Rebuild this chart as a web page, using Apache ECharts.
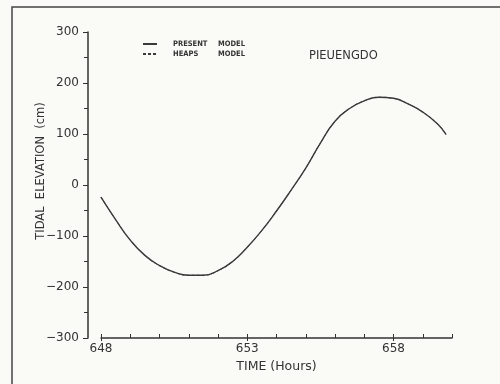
<!DOCTYPE html>
<html>
<head>
<meta charset="utf-8">
<script src="https://cdn.jsdelivr.net/npm/echarts@6/dist/echarts.min.js"></script>
<style>
  html, body { margin: 0; padding: 0; background: #fafaf7; }
  #chart { width: 500px; height: 384px; }
</style>
</head>
<body>
<div id="chart"></div>
<script>
// time in hours, elevation in cm
const hours = [648, 648.5, 649, 649.5, 650, 650.5, 651, 651.5, 652, 652.5, 653, 653.5,
  654, 654.5, 655, 655.5, 656, 656.5, 657, 657.5, 658, 658.5, 659, 659.5, 659.8];
const presentModel = [-24, -68, -108, -138, -158, -171, -177, -177, -168, -150, -122, -89,
  -51, -10, 33, 82, 125, 150, 165, 172, 170, 159, 143, 120, 99];
// the Heaps model curve sits on top of the present model everywhere
const heapsModel = [-24, -68, -108, -138, -158, -171, -177, -177, -168, -150, -122, -89,
  -51, -10, 33, 82, 125, 150, 165, 172, 170, 159, 143, 120, 99];
const xLabels = [648, 653, 658];

const ink = '#333';
const chart = echarts.init(document.getElementById('chart'));

const legendFont = { fontSize: 7.5, fontWeight: 'bold', color: ink, fontFamily: 'DejaVu Sans Condensed' };

const option = {
  backgroundColor: '#fafaf7',
  animation: false,
  textStyle: { fontFamily: 'DejaVu Sans', color: ink },
  title: {
    text: 'PIEUENGDO',
    left: 304,
    top: 45,
    textStyle: { fontSize: 11.5, fontWeight: 'normal', color: ink, fontFamily: 'DejaVu Sans' }
  },
  legend: {
    orient: 'vertical',
    left: 142,
    top: 40,
    itemWidth: 14,
    itemHeight: 8,
    itemGap: 2,
    padding: 0,
    itemStyle: { opacity: 0 },
    data: ['PRESENT MODEL', 'HEAPS MODEL'],
    formatter: name => {
      const parts = name.split(' ');
      return '{g|}{a|' + parts[0] + '}{b|' + parts[1] + '}';
    },
    textStyle: {
      fontSize: 7.5,
      color: ink,
      rich: {
        g: { width: 11 },
        a: Object.assign({ width: 45 }, legendFont),
        b: legendFont
      }
    }
  },
  graphic: [{
    type: 'rect',
    shape: { x: 12, y: 7, width: 520, height: 420 },
    style: { fill: 'none', stroke: '#444', lineWidth: 1.5 },
    silent: true
  }],
  grid: { left: 101, right: 48, top: 32, bottom: 46 },
  xAxis: [{
    type: 'value',
    min: 648,
    max: 660,
    interval: 1,
    name: 'TIME (Hours)',
    nameLocation: 'middle',
    nameGap: 22,
    nameTextStyle: { fontSize: 12.5, color: ink },
    axisLine: { onZero: false, lineStyle: { color: ink, width: 1.5 } },
    axisTick: { inside: true, length: 4, lineStyle: { color: ink } },
    axisLabel: { customValues: xLabels, fontSize: 12, color: ink, margin: 5 },
    splitLine: { show: false }
  }, {
    type: 'value',
    position: 'bottom',
    min: 648,
    max: 660,
    interval: 1,
    axisLine: { show: false, onZero: false },
    axisTick: { customValues: xLabels, length: 3, lineStyle: { color: ink } },
    axisLabel: { show: false },
    splitLine: { show: false }
  }],
  yAxis: {
    type: 'value',
    min: -300,
    max: 300,
    interval: 100,
    offset: 13,
    name: 'TIDAL  ELEVATION  (cm)',
    nameLocation: 'middle',
    nameRotate: 90,
    nameGap: 41,
    nameMoveOverlap: false,
    nameTextStyle: { fontSize: 11.5, color: ink, padding: [0, 0, 0, 28] },
    axisLine: { lineStyle: { color: ink, width: 1.5 } },
    axisTick: { length: 5, lineStyle: { color: ink } },
    minorTick: { show: true, splitNumber: 2, length: 4, lineStyle: { color: ink } },
    axisLabel: {
      fontSize: 12,
      color: ink,
      margin: 9,
      formatter: v => (v < 0 ? '\u2212' + Math.abs(v) : String(v))
    },
    splitLine: { show: false }
  },
  series: [{
    name: 'PRESENT MODEL',
    type: 'line',
    smooth: true,
    symbol: 'none',
    lineStyle: { color: '#3a3a3a', width: 1.4 },
    itemStyle: { color: '#3a3a3a' },
    data: hours.map((h, i) => [h, presentModel[i]])
  }, {
    name: 'HEAPS MODEL',
    type: 'line',
    smooth: true,
    symbol: 'none',
    lineStyle: { color: '#3a3a3a', width: 1, type: [3, 2] },
    itemStyle: { color: '#3a3a3a' },
    data: hours.map((h, i) => [h, heapsModel[i]])
  }]
};

chart.setOption(option);
</script>
</body>
</html>
